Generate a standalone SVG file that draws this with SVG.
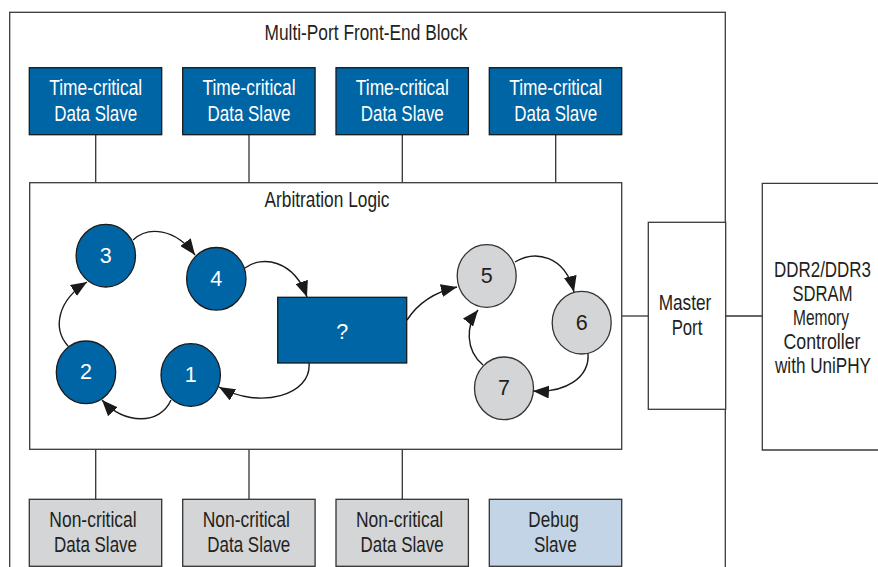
<svg xmlns="http://www.w3.org/2000/svg" width="878" height="567" viewBox="0 0 878 567">
<defs>
<style>
.ln{fill:none;stroke:#333;stroke-width:1.3}
.blue{fill:#0065a4;stroke:#1a1a1a;stroke-width:1.3}
.gray{fill:#d4d5d7;stroke:#333;stroke-width:1.3}
.dbg{fill:#c3d4e7;stroke:#333;stroke-width:1.3}
.wht{fill:#fff;stroke:#3a3a3a;stroke-width:1.3}
text{font-family:"Liberation Sans",Arial,sans-serif;font-size:21.5px;text-anchor:middle;fill:#231f20}
.w{fill:#fff}
.arr{fill:none;stroke:#1a1a1a;stroke-width:1.4}
</style>
<marker id="ah" markerUnits="userSpaceOnUse" markerWidth="17" markerHeight="13" refX="16" refY="6.5" orient="auto">
<path d="M0,0 L16,6.5 L0,13 Z" fill="#1a1a1a"/>
</marker>
</defs>
<rect width="878" height="567" fill="#fff"/>

<g id="front-end-block">
<rect x="9.7" y="12.3" width="715.6" height="600" class="wht"/>
<text x="366" y="40" textLength="203" lengthAdjust="spacingAndGlyphs">Multi-Port Front-End Block</text>
</g>

<g id="connectors">
<line x1="95.7" y1="134.7" x2="95.7" y2="182.7" class="ln"/>
<line x1="249" y1="134.7" x2="249" y2="182.7" class="ln"/>
<line x1="402.3" y1="134.7" x2="402.3" y2="182.7" class="ln"/>
<line x1="555.7" y1="134.7" x2="555.7" y2="182.7" class="ln"/>
<line x1="95.7" y1="449.3" x2="95.7" y2="499.3" class="ln"/>
<line x1="249" y1="449.3" x2="249" y2="499.3" class="ln"/>
<line x1="402.3" y1="449.3" x2="402.3" y2="499.3" class="ln"/>
<line x1="621.7" y1="316" x2="648.3" y2="316" class="ln"/>
<line x1="725.7" y1="316" x2="762.3" y2="316" class="ln"/>
</g>

<g id="ts1"><rect x="29.3" y="67.7" width="132.4" height="67" class="blue"/>
<text class="w" x="95.7" y="95" textLength="93" lengthAdjust="spacingAndGlyphs">Time-critical</text>
<text class="w" x="95.7" y="120.7" textLength="83" lengthAdjust="spacingAndGlyphs">Data Slave</text></g>
<g id="ts2"><rect x="182.7" y="67.7" width="132.4" height="67" class="blue"/>
<text class="w" x="249" y="95" textLength="93" lengthAdjust="spacingAndGlyphs">Time-critical</text>
<text class="w" x="249" y="120.7" textLength="83" lengthAdjust="spacingAndGlyphs">Data Slave</text></g>
<g id="ts3"><rect x="336" y="67.7" width="132.4" height="67" class="blue"/>
<text class="w" x="402.3" y="95" textLength="93" lengthAdjust="spacingAndGlyphs">Time-critical</text>
<text class="w" x="402.3" y="120.7" textLength="83" lengthAdjust="spacingAndGlyphs">Data Slave</text></g>
<g id="ts4"><rect x="489.3" y="67.7" width="132.4" height="67" class="blue"/>
<text class="w" x="555.7" y="95" textLength="93" lengthAdjust="spacingAndGlyphs">Time-critical</text>
<text class="w" x="555.7" y="120.7" textLength="83" lengthAdjust="spacingAndGlyphs">Data Slave</text></g>

<g id="arbitration-logic">
<rect x="29.7" y="182.7" width="592" height="266.6" class="wht" stroke="#555"/>
<text x="327" y="206.7" textLength="125" lengthAdjust="spacingAndGlyphs">Arbitration Logic</text>
</g>

<g id="arrows">
<path class="arr" marker-end="url(#ah)" d="M133,240 C148,226 175,228 195,255"/>
<path class="arr" marker-end="url(#ah)" d="M245,268 C262,255 294,260 307,297"/>
<path class="arr" marker-end="url(#ah)" d="M68,346 C52,328 58,300 87,282"/>
<path class="arr" marker-end="url(#ah)" d="M171,400 C160,425 125,425 102,400"/>
<path class="arr" marker-end="url(#ah)" d="M309,363 C312,395 260,410 219,387"/>
<path class="arr" marker-end="url(#ah)" d="M407,320 C418,303 435,292 457,287"/>
<path class="arr" marker-end="url(#ah)" d="M515,262 C535,250 565,255 574,292"/>
<path class="arr" marker-end="url(#ah)" d="M588,353 C590,378 565,393 533,391"/>
<path class="arr" marker-end="url(#ah)" d="M483,365 C465,350 466,325 478,310"/>
</g>

<g id="n3"><ellipse cx="105.8" cy="255.7" rx="29.7" ry="31.3" class="blue"/><text class="w" x="105.8" y="262.7">3</text></g>
<g id="n4"><ellipse cx="216.3" cy="278.8" rx="29.7" ry="31.3" class="blue"/><text class="w" x="216.3" y="285.8">4</text></g>
<g id="n2"><ellipse cx="86" cy="372.3" rx="29.7" ry="31.3" class="blue"/><text class="w" x="86" y="379.3">2</text></g>
<g id="n1"><ellipse cx="190.7" cy="375" rx="29.7" ry="31.3" class="blue"/><text class="w" x="190.7" y="382">1</text></g>
<g id="nq"><rect x="277.7" y="297.3" width="129" height="65.7" class="blue"/><text class="w" x="342.2" y="339">?</text></g>
<g id="n5"><ellipse cx="486.7" cy="276" rx="29.5" ry="31.3" class="gray"/><text x="486.7" y="283">5</text></g>
<g id="n6"><ellipse cx="581.7" cy="322.7" rx="29.5" ry="31.3" class="gray"/><text x="581.7" y="329.7">6</text></g>
<g id="n7"><ellipse cx="504" cy="388.3" rx="29.5" ry="31.3" class="gray"/><text x="504" y="395.3">7</text></g>

<g id="master-port">
<rect x="648.3" y="222.3" width="77.4" height="187" class="wht"/>
<text x="685" y="310" textLength="52.7" lengthAdjust="spacingAndGlyphs">Master</text>
<text x="687" y="335" textLength="30.7" lengthAdjust="spacingAndGlyphs">Port</text>
</g>

<g id="ddr-controller">
<path d="M878,183.3 H762.3 V450 H878" class="wht"/>
<text x="822.5" y="276.7" textLength="97" lengthAdjust="spacingAndGlyphs">DDR2/DDR3</text>
<text x="822.5" y="300.8" textLength="60" lengthAdjust="spacingAndGlyphs">SDRAM</text>
<text x="821" y="324.9" textLength="56" lengthAdjust="spacingAndGlyphs">Memory</text>
<text x="822" y="349" textLength="77" lengthAdjust="spacingAndGlyphs">Controller</text>
<text x="823" y="373" textLength="96" lengthAdjust="spacingAndGlyphs">with UniPHY</text>
</g>

<g id="ns1"><rect x="29.3" y="499.3" width="132.4" height="67" class="gray"/>
<text x="93" y="527.3" textLength="87.3" lengthAdjust="spacingAndGlyphs">Non-critical</text>
<text x="95.5" y="551.7" textLength="83" lengthAdjust="spacingAndGlyphs">Data Slave</text></g>
<g id="ns2"><rect x="182.7" y="499.3" width="132.4" height="67" class="gray"/>
<text x="246.3" y="527.3" textLength="87.3" lengthAdjust="spacingAndGlyphs">Non-critical</text>
<text x="248.8" y="551.7" textLength="83" lengthAdjust="spacingAndGlyphs">Data Slave</text></g>
<g id="ns3"><rect x="336" y="499.3" width="132.4" height="67" class="gray"/>
<text x="399.6" y="527.3" textLength="87.3" lengthAdjust="spacingAndGlyphs">Non-critical</text>
<text x="402.1" y="551.7" textLength="83" lengthAdjust="spacingAndGlyphs">Data Slave</text></g>
<g id="debug"><rect x="489.3" y="499.3" width="132.4" height="67" class="dbg"/>
<text x="553.5" y="527.3" textLength="50.3" lengthAdjust="spacingAndGlyphs">Debug</text>
<text x="555.3" y="551.7" textLength="42.7" lengthAdjust="spacingAndGlyphs">Slave</text></g>
</svg>
